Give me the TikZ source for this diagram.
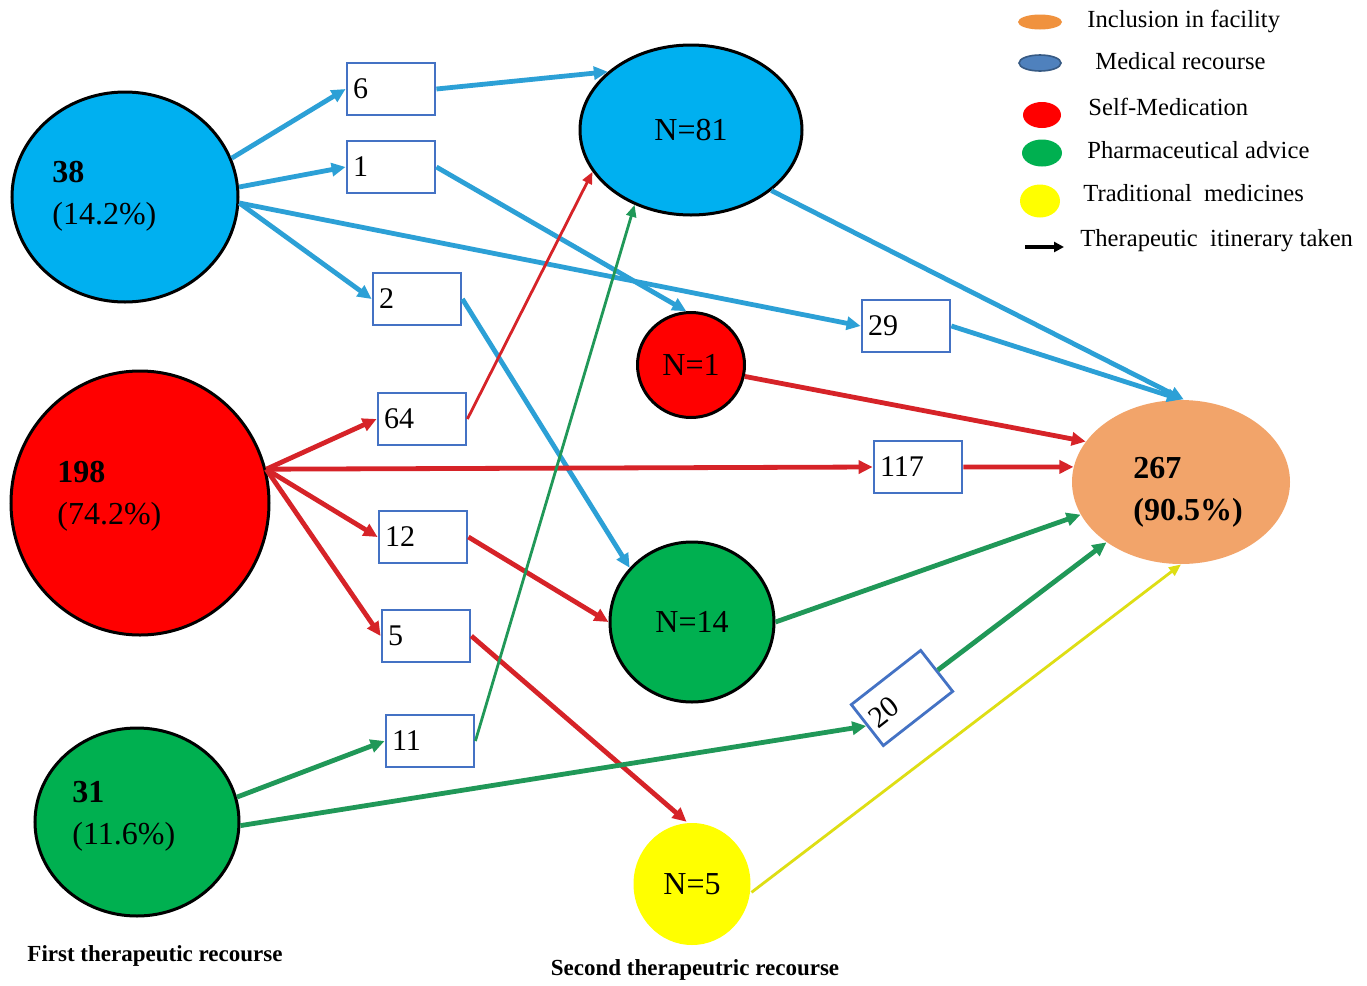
\documentclass[tikz,border=0pt]{standalone}
\usepackage{fontspec}
\setmainfont{Liberation Serif}
\usetikzlibrary{arrows.meta}
\usetikzlibrary{shapes.geometric}
\definecolor{medfill}{RGB}{0,176,240}
\definecolor{selffill}{RGB}{255,0,0}
\definecolor{pharmfill}{RGB}{0,176,80}
\definecolor{tradfill}{RGB}{255,255,0}
\definecolor{inclfill}{RGB}{242,164,106}
\definecolor{medline}{RGB}{44,160,214}
\definecolor{selfline}{RGB}{214,35,40}
\definecolor{pharmline}{RGB}{32,152,88}
\definecolor{tradline}{RGB}{222,222,20}
\definecolor{boxblue}{RGB}{68,114,196}
\definecolor{legblue}{RGB}{79,129,189}
\definecolor{legorange}{RGB}{240,146,62}
\tikzset{
  group/.style={ellipse,draw=black,line width=1.5pt,inner sep=0pt,font=\fontsize{16}{19}\selectfont},
  grouptxt/.style={anchor=west,inner sep=0pt,align=left,font=\fontsize{16}{21}\selectfont},
  countbox/.style={draw=boxblue,fill=white,line width=1.4pt,minimum height=26pt,text width=38pt,inner sep=3pt,align=left,font=\fontsize{15}{17}\selectfont},
  flow/.style={line width=2.4pt,-{Triangle[length=7pt,width=6.5pt]}},
  thinflow/.style={line width=1.4pt,-{Triangle[length=6pt,width=5pt]}},
  legmark/.style={ellipse,inner sep=0pt},
  legtxt/.style={anchor=west,inner sep=0pt,font=\fontsize{12.3}{14}\selectfont},
  caption/.style={inner sep=0pt,font=\fontsize{11.5}{13}\selectfont\bfseries}
}
\begin{document}
\begin{tikzpicture}[x=0.5pt,y=-0.5pt]
	\useasboundingbox[fill=white] (0,0) rectangle (1367,986);
	% first recourse
	\node[group,fill=medfill,minimum width=113pt,minimum height=105pt] (med1) at (125,197) {};
	\node[group,fill=selffill,minimum width=129pt,minimum height=132pt] (self1) at (140,503) {};
	\node[group,fill=pharmfill,minimum width=102pt,minimum height=94pt] (pharm1) at (137,822) {};
	\node[grouptxt] (t38) at (52,196) {\textbf{38}\\(14.2\%)};
	\node[grouptxt] (t198) at (57,496) {\textbf{198}\\(74.2\%)};
	\node[grouptxt] (t31) at (72,816) {\textbf{31}\\(11.6\%)};
	% second recourse
	\node[group,fill=medfill,minimum width=111pt,minimum height=85pt] (n81) at (691,130) {N=81};
	\node[group,fill=selffill,minimum width=53.5pt,minimum height=52.5pt] (n1) at (691,365) {N=1};
	\node[group,fill=pharmfill,minimum width=82pt,minimum height=80pt] (n14) at (692,622) {N=14};
	\node[group,draw=none,fill=tradfill,minimum width=58.5pt,minimum height=61pt] (n5) at (692,884) {N=5};
	\node[ellipse,fill=inclfill,inner sep=0pt,minimum width=109pt,minimum height=82pt] (incl) at (1181,482) {};
	\node[grouptxt,font=\fontsize{16}{21}\selectfont\bfseries] (t267) at (1133,492) {267\\(90.5\%)};
	% counts
	\node[countbox] (b6) at (391,89) {6};
	\node[countbox] (b1) at (391,167) {1};
	\node[countbox] (b2) at (417,299) {2};
	\node[countbox] (b29) at (906,326) {29};
	\node[countbox] (b64) at (422,419) {64};
	\node[countbox] (b117) at (918,467) {117};
	\node[countbox] (b12) at (423,537) {12};
	\node[countbox] (b5) at (426,636) {5};
	\node[countbox] (b11) at (430,741) {11};
	\node[countbox,rotate=38] (b20) at (902,698) {20};
	% medical
	\draw[flow,medline] (med1.20) -- (b6.west);
	\draw[flow,medline] (med1.5) -- (b1.west);
	\draw[flow,medline] (med1.-3) -- (b2.west);
	\draw[flow,medline] (med1.-3) -- (b29.west);
	\draw[flow,medline] (b6.east) -- (n81.145);
	\draw[flow,medline] (b1.east) -- (n1.95);
	\draw[flow,medline] (b2.east) -- (n14.139);
	\draw[flow,medline] (n81.-37) -- (incl.88);
	\draw[flow,medline] (b29.east) -- (incl.90);
	% self-medication
	\draw[flow,selfline] (self1.15) -- (b64.west);
	\draw[flow,selfline] (self1.15) -- (b117.west);
	\draw[flow,selfline] (self1.15) -- (b12.west);
	\draw[flow,selfline] (self1.15) -- (b5.west);
	\draw[thinflow,selfline] (b64.east) -- (n81.203);
	\draw[flow,selfline] (b12.east) -- (n14.west);
	\draw[flow,selfline] (b5.east) -- (n5.95);
	\draw[flow,selfline] (n1.-12) -- (incl.157);
	\draw[flow,selfline] (b117.east) -- (incl.172);
	% pharmaceutical
	\draw[flow,pharmline] (pharm1.14) -- (b11.west);
	\draw[flow,pharmline] (pharm1.-2) -- (b20.west);
	\draw[thinflow,pharmline] (b11.east) -- (n81.233);
	\draw[flow,pharmline] (n14.east) -- (incl.198);
	\draw[flow,pharmline] (b20.east) -- (incl.219);
	% traditional
	\draw[thinflow,tradline] (n5.-8) -- (incl.south);
	% legend
	\node[legmark,fill=legorange,minimum width=22pt,minimum height=7.5pt] (lgincl) at (1040,22) {};
	\node[legmark,fill=legblue,draw=legblue!70!black,thick,minimum width=21pt,minimum height=8pt] (lgmed) at (1040,63) {};
	\node[legmark,fill=selffill,minimum width=19pt,minimum height=13pt] (lgself) at (1042,115) {};
	\node[legmark,fill=pharmfill,minimum width=20pt,minimum height=13.5pt] (lgpharm) at (1042,153) {};
	\node[legmark,fill=tradfill,minimum width=20pt,minimum height=16.5pt] (lgtrad) at (1040,201) {};
	\coordinate (lga) at (1025,247);
	\coordinate (lgb) at (1064,247);
	\draw[line width=2pt,-{Triangle[length=5pt,width=5pt]}] (lga) -- (lgb);
	\node[legtxt] (ltincl) at (1087,21) {Inclusion in facility};
	\node[legtxt] (ltmed) at (1095,61) {Medical recourse};
	\node[legtxt] (ltself) at (1088,107) {Self-Medication};
	\node[legtxt] (ltpharm) at (1087,150) {Pharmaceutical advice};
	\node[legtxt] (lttrad) at (1083,193) {Traditional\ \ medicines};
	\node[legtxt] (ltway) at (1080,241) {Therapeutic\ \ itinerary taken};
	% captions
	\node[caption] (cap1) at (155,956) {First therapeutic recourse};
	\node[caption] (cap2) at (695,970) {Second therapeutric recourse};
\end{tikzpicture}
\end{document}
